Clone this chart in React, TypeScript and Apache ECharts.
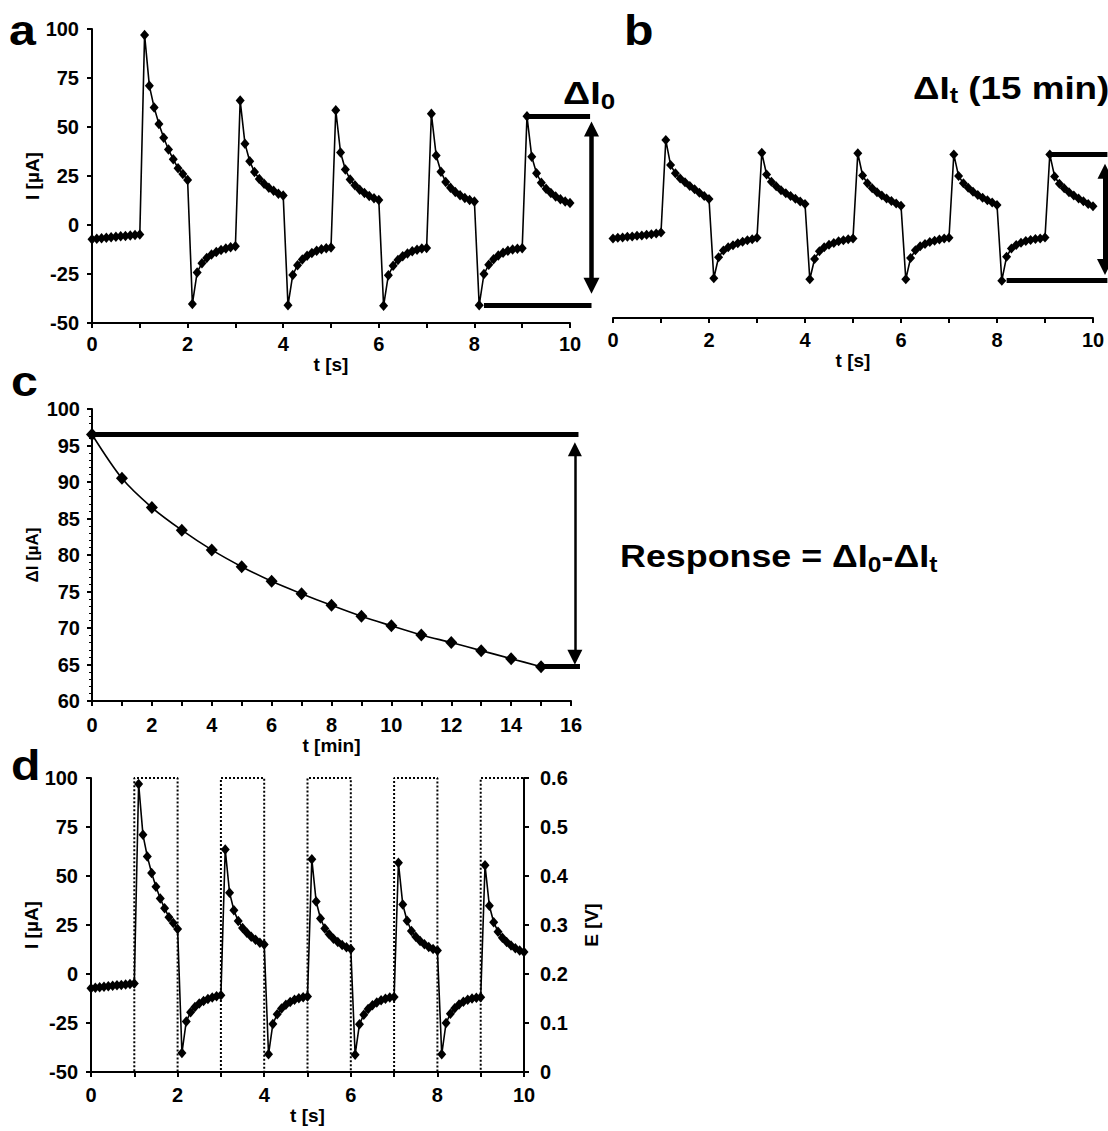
import React, { useEffect, useRef } from "react";
import * as echarts from "echarts";

const FONT = '"Liberation Sans", Arial, Helvetica, sans-serif';

// ---------- sampling of the pulse traces (s) ----------
const sampleStepS = 0.1;

// ---------- panel a / d : current trace at start, I [µA] ----------
const baselineA = [-7.3, -7.0, -6.8, -6.5, -6.3, -6.0, -5.8, -5.6, -5.4, -5.1, -4.8];
const anodicA = [
  [97, 71, 60, 51.5, 44.5, 38.5, 33.5, 29, 26, 23],
  [63.5, 41.5, 32.5, 27, 23.5, 21, 19, 17.5, 16, 15],
  [58.5, 37, 28.3, 23.2, 20.3, 18, 16.3, 14.8, 13.6, 12.7],
  [56.7, 35.5, 27.2, 22, 19, 16.8, 15.2, 13.8, 12.8, 12],
  [55.5, 34.8, 26.4, 21.6, 18.5, 16.3, 14.6, 13.2, 12, 11.2],
];
const cathodicA = [
  [-40.3, -24.2, -19.5, -16.8, -15, -13.8, -12.8, -12, -11.4, -10.8],
  [-41, -25.5, -20.5, -17.6, -15.7, -14.3, -13.2, -12.4, -11.8, -11.5],
  [-41.2, -25.6, -20.8, -17.9, -15.9, -14.5, -13.4, -12.6, -12, -11.7],
  [-41, -25, -20.3, -17.5, -15.6, -14.2, -13.2, -12.5, -12.1, -11.8],
];

// ---------- panel b : current trace after 15 min, I [µA] ----------
const baselineB = [-6.5, -6.2, -6.0, -5.7, -5.5, -5.2, -5.0, -4.7, -4.4, -4.0, -3.5];
const anodicB = [
  [43.5, 30.8, 26.6, 24, 22, 20.1, 18.5, 16.7, 15, 13.5],
  [37, 26, 22.3, 20, 18, 16.5, 15, 13.6, 12.3, 11],
  [36.8, 25.5, 21.5, 19, 17, 15.3, 13.8, 12.5, 11.2, 10.1],
  [36.2, 25.2, 21.5, 19.3, 17.2, 15.6, 14.2, 12.9, 11.7, 10.5],
  [36.2, 25, 21.3, 19, 17, 15.3, 13.8, 12.4, 11, 9.8],
];
const cathodicB = [
  [-26.8, -16.1, -12.7, -11, -10, -9, -8.2, -7.5, -7, -6.2],
  [-27.3, -17, -13, -11, -9.8, -8.8, -8, -7.4, -7, -6.5],
  [-27.3, -16.5, -12.5, -10.5, -9.3, -8.4, -7.7, -7.1, -6.6, -6.2],
  [-28, -15.8, -11.6, -9.9, -8.7, -7.8, -7.3, -6.8, -6.5, -6.1],
];

// ---------- panel c : ΔI vs time ----------
const timeMin = [0, 1, 2, 3, 4, 5, 6, 7, 8, 9, 10, 11, 12, 13, 14, 15];
const deltaI = [96.5, 90.5, 86.5, 83.4, 80.7, 78.4, 76.4, 74.7, 73.1, 71.6, 70.3, 69.05, 68.0, 66.9, 65.8, 64.7];

// ---------- panel d : applied potential E [V] ----------
const pulseTimesS = [0, 1, 2, 3, 4, 5, 6, 7, 8, 9, 10];
const pulseLevelsV = [0, 0.6, 0, 0.6, 0, 0.6, 0, 0.6, 0, 0.6, 0.6];

function assemble(baseline: number[], anodic: number[][], cathodic: number[][]) {
  const values: number[] = [...baseline];
  anodic.forEach((seg, k) => {
    values.push(...seg);
    if (cathodic[k]) values.push(...cathodic[k]);
  });
  return values.map((v, i) => [Math.round(i * sampleStepS * 10) / 10, v]);
}

const traceA = assemble(baselineA, anodicA, cathodicA);
const traceB = assemble(baselineB, anodicB, cathodicB);

const tickFont = { fontFamily: FONT, fontWeight: "bold" as const, fontSize: 20, color: "#000" };
const nameFont = { fontFamily: FONT, fontWeight: "bold" as const, fontSize: 19, color: "#000" };
const evenLabel = (v: number) => (Math.round(v) % 2 === 0 ? String(v) : "");
const blackLine = { color: "#000", width: 2 };

function xAxisBase(grid: number, max: number, name: string, nameGap: number, margin: number, showLine = true) {
  return {
    type: "value",
    gridIndex: grid,
    min: 0,
    max,
    interval: 1,
    name,
    nameLocation: "middle",
    nameGap,
    nameTextStyle: nameFont,
    axisLine: { show: showLine, onZero: false, lineStyle: blackLine },
    axisTick: { show: true, inside: false, length: 5, lineStyle: blackLine },
    axisLabel: { ...tickFont, margin, formatter: evenLabel },
    splitLine: { show: false },
  };
}

function yAxisBase(grid: number, min: number, max: number, interval: number, name: string, nameGap: number, margin: number, fontSize = 19) {
  return {
    type: "value",
    gridIndex: grid,
    min,
    max,
    interval,
    name,
    nameLocation: "middle",
    nameRotate: 90,
    nameGap,
    nameTextStyle: { ...nameFont, fontSize },
    axisLine: { show: true, onZero: false, lineStyle: blackLine },
    axisTick: { show: true, inside: false, length: 5, lineStyle: blackLine },
    axisLabel: { ...tickFont, margin },
    splitLine: { show: false },
  };
}

function traceSeries(xi: number, yi: number, data: number[][], size: number[], extra: any = {}) {
  return {
    type: "line",
    xAxisIndex: xi,
    yAxisIndex: yi,
    data,
    symbol: "diamond",
    symbolSize: size,
    showSymbol: true,
    showAllSymbol: true,
    itemStyle: { color: "#000" },
    lineStyle: { color: "#000", width: 1.6 },
    z: 5,
    silent: true,
    ...extra,
  };
}

function barLine(xi: number, yi: number, coords: number[][], width: number) {
  return {
    type: "lines",
    coordinateSystem: "cartesian2d",
    xAxisIndex: xi,
    yAxisIndex: yi,
    clip: false,
    silent: true,
    symbol: "none",
    color: "#000",
    lineStyle: { color: "#000", width, opacity: 1 },
    data: [{ coords }],
    z: 4,
  };
}

function arrowLine(xi: number, yi: number, coords: number[][], width: number, head: number[]) {
  return {
    type: "lines",
    coordinateSystem: "cartesian2d",
    xAxisIndex: xi,
    yAxisIndex: yi,
    clip: false,
    silent: true,
    symbol: ["triangle", "triangle"],
    symbolSize: head,
    color: "#000",
    lineStyle: { color: "#000", width, opacity: 1 },
    data: [{ coords }],
    z: 4,
  };
}

function bigText(x: number, y: number, text: string, fontSize: number, subSize: number, scaleX: number) {
  return {
    type: "text",
    x,
    y,
    scaleX,
    silent: true,
    style: {
      text,
      fill: "#000",
      align: "left",
      verticalAlign: "middle",
      textAlign: "left",
      textVerticalAlign: "middle",
      rich: {
        m: { fontSize, fontWeight: "bold", fontFamily: FONT, fill: "#000", lineHeight: Math.round(fontSize * 1.2) },
        s: { fontSize: subSize, fontWeight: "bold", fontFamily: FONT, fill: "#000", lineHeight: subSize, verticalAlign: "bottom" },
      },
    },
  };
}

function letter(x: number, y: number, t: string) {
  return {
    type: "text",
    x,
    y,
    scaleX: 1.15,
    silent: true,
    style: {
      text: t,
      fill: "#000",
      fontSize: 42,
      fontWeight: "bold",
      fontFamily: FONT,
      align: "left",
      verticalAlign: "middle",
      textAlign: "left",
      textVerticalAlign: "middle",
    },
  };
}

export default function App() {
  const ref = useRef<HTMLDivElement>(null);
  useEffect(() => {
    document.body.style.margin = "0";
    if (!ref.current) return;
    const chart = echarts.init(ref.current, null, { renderer: "svg" });

    const peakA = anodicA[4][0];
    const lowA = cathodicA[3][0];
    const peakB = anodicB[4][0];
    const lowB = cathodicB[3][0];
    const startC = deltaI[0];
    const endC = deltaI[deltaI.length - 1];

    const option: any = {
      animation: false,
      backgroundColor: "#fff",
      grid: [
        { left: 92, top: 29, width: 478, height: 294 },
        { left: 613, top: 29, width: 480, height: 289 },
        { left: 92, top: 409, width: 479, height: 292 },
        { left: 91, top: 778, width: 433, height: 294 },
      ],
      xAxis: [
        xAxisBase(0, 10, "t [s]", 32, 11),
        xAxisBase(1, 10, "t [s]", 31, 12),
        xAxisBase(2, 16, "t [min]", 33, 14),
        xAxisBase(3, 10, "t [s]", 34, 13),
      ],
      yAxis: [
        yAxisBase(0, -50, 100, 25, "I [µA]", 46, 13),
        { type: "value", gridIndex: 1, min: -47, max: 100, show: false },
        {
          ...yAxisBase(2, 60, 100, 5, "ΔI [µA]", 51, 12, 17),
          minorTick: { show: true, splitNumber: 5, length: 3, lineStyle: { color: "#000", width: 1 } },
        },
        yAxisBase(3, -50, 100, 25, "I [µA]", 46, 13),
        {
          ...yAxisBase(3, 0, 0.6, 0.1, "E [V]", 58, 16),
          position: "right",
          axisLabel: { ...tickFont, margin: 16, formatter: (v: number) => (v === 0 ? "0" : v.toFixed(1)) },
        },
      ],
      series: [
        traceSeries(0, 0, traceA, [9, 10.5]),
        traceSeries(1, 1, traceB, [9, 10]),
        traceSeries(2, 2, timeMin.map((t, i) => [t, deltaI[i]]), [12, 13], { smooth: 0.3 }),
        traceSeries(3, 3, traceA, [9, 10.5]),
        {
          type: "line",
          xAxisIndex: 3,
          yAxisIndex: 4,
          data: pulseTimesS.map((t, i) => [t, pulseLevelsV[i]]),
          step: "end",
          showSymbol: false,
          symbol: "none",
          silent: true,
          lineStyle: { color: "#000", width: 2, type: "dotted" },
          z: 3,
        },
        // panel a annotation (ΔI0)
        barLine(0, 0, [[9.1, peakA], [10.42, peakA]], 5),
        barLine(0, 0, [[8.2, lowA], [10.45, lowA]], 5),
        arrowLine(0, 0, [[10.45, peakA - 6.5], [10.45, lowA + 10]], 4.5, [15, 16]),
        // panel b annotation (ΔIt)
        barLine(1, 1, [[9.1, peakB], [10.3, peakB]], 5),
        barLine(1, 1, [[8.2, lowB], [10.3, lowB]], 5),
        arrowLine(1, 1, [[10.25, peakB - 8.6], [10.25, lowB + 7]], 5, [15, 16]),
        // panel c annotation
        barLine(2, 2, [[0, startC], [16.25, startC]], 5),
        barLine(2, 2, [[15.05, endC], [16.3, endC]], 5),
        arrowLine(2, 2, [[16.13, startC - 2], [16.13, endC + 1.3]], 2.5, [14, 15]),
      ],
      graphic: [
        letter(9, 31, "a"),
        letter(624, 31, "b"),
        letter(11, 382, "c"),
        letter(11, 766, "d"),
        bigText(563, 93, "{m|ΔI}{s|0}", 32, 22, 1.18),
        bigText(913, 88, "{m|ΔI}{s|t}{m| (15 min)}", 32, 22, 1.15),
        bigText(620, 556, "{m|Response = ΔI}{s|0}{m|-ΔI}{s|t}", 32, 22, 1.12),
      ],
    };
    chart.setOption(option);
    return () => chart.dispose();
  }, []);
  return <div ref={ref} style={{ width: 1108, height: 1131 }} />;
}
